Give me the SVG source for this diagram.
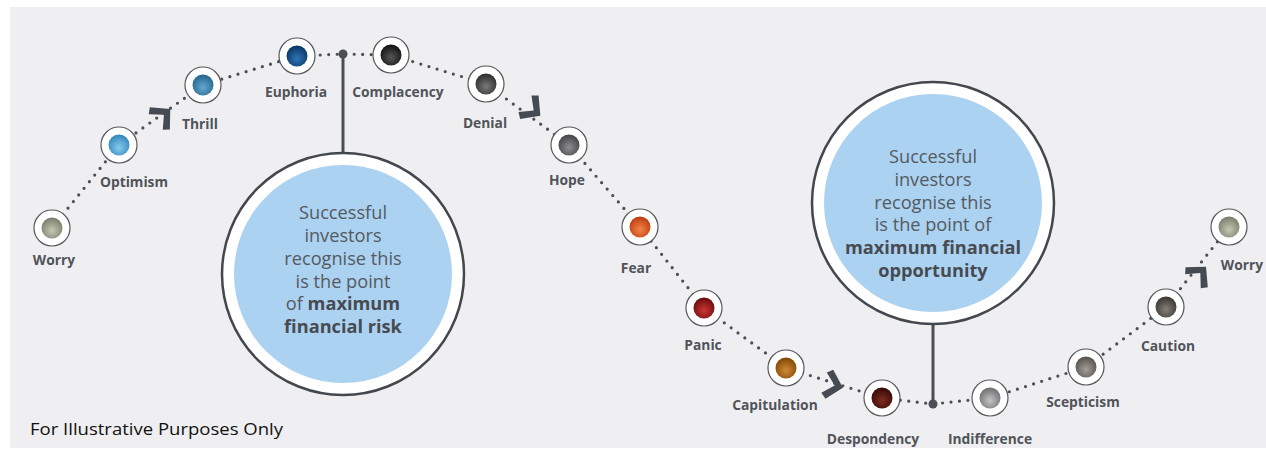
<svg xmlns="http://www.w3.org/2000/svg" width="1266" height="450" viewBox="0 0 1266 450">
<style>
.lbl{font-family:"Open Sans","Noto Sans",sans-serif;font-weight:bold;font-size:13.8px;fill:#50545a;text-anchor:middle}
.ctext{font-family:"Open Sans","Noto Sans",sans-serif;font-size:18.2px;fill:#555a61;text-anchor:middle}
.ctext .b{font-weight:bold;fill:#474b51}
.ring{fill:#ffffff;stroke:#55585d;stroke-width:1.2}
.dots{fill:none;stroke:#4a4e55;stroke-width:3.2;stroke-linecap:round;stroke-dasharray:0 8.5}
.stem{stroke:#4a4e55;stroke-width:3}
.jdot{fill:#4a4e55}
.chev{fill:#464a52}
.bigouter{fill:#ffffff;stroke:#43474e;stroke-width:2.5}
.bigfill{fill:#abd2f1}
</style>
<defs>
<radialGradient id="gWorry" cx="0.5" cy="0.62" r="0.6"><stop offset="0" stop-color="#c4c7b4"/><stop offset="1" stop-color="#7a7f6c"/></radialGradient>
<radialGradient id="gOpt" cx="0.5" cy="0.62" r="0.6"><stop offset="0" stop-color="#86cbee"/><stop offset="1" stop-color="#3387bd"/></radialGradient>
<radialGradient id="gThrill" cx="0.5" cy="0.62" r="0.6"><stop offset="0" stop-color="#64a8cf"/><stop offset="1" stop-color="#25658e"/></radialGradient>
<radialGradient id="gEuph" cx="0.5" cy="0.62" r="0.6"><stop offset="0" stop-color="#2e74b4"/><stop offset="1" stop-color="#073766"/></radialGradient>
<radialGradient id="gComp" cx="0.5" cy="0.62" r="0.6"><stop offset="0" stop-color="#575757"/><stop offset="1" stop-color="#121212"/></radialGradient>
<radialGradient id="gDen" cx="0.5" cy="0.62" r="0.6"><stop offset="0" stop-color="#7a7a7a"/><stop offset="1" stop-color="#2e2e2e"/></radialGradient>
<radialGradient id="gHope" cx="0.5" cy="0.62" r="0.6"><stop offset="0" stop-color="#8e8e90"/><stop offset="1" stop-color="#444446"/></radialGradient>
<radialGradient id="gFear" cx="0.5" cy="0.62" r="0.6"><stop offset="0" stop-color="#f58448"/><stop offset="1" stop-color="#bd3f10"/></radialGradient>
<radialGradient id="gPanic" cx="0.5" cy="0.62" r="0.6"><stop offset="0" stop-color="#cf3434"/><stop offset="1" stop-color="#6a0d0d"/></radialGradient>
<radialGradient id="gCap" cx="0.5" cy="0.62" r="0.6"><stop offset="0" stop-color="#cf8a34"/><stop offset="1" stop-color="#824705"/></radialGradient>
<radialGradient id="gDesp" cx="0.5" cy="0.62" r="0.6"><stop offset="0" stop-color="#7e2c22"/><stop offset="1" stop-color="#360a06"/></radialGradient>
<radialGradient id="gInd" cx="0.5" cy="0.62" r="0.6"><stop offset="0" stop-color="#c4c4c6"/><stop offset="1" stop-color="#707072"/></radialGradient>
<radialGradient id="gScep" cx="0.5" cy="0.62" r="0.6"><stop offset="0" stop-color="#a39e99"/><stop offset="1" stop-color="#57524e"/></radialGradient>
<radialGradient id="gCaut" cx="0.5" cy="0.62" r="0.6"><stop offset="0" stop-color="#85807b"/><stop offset="1" stop-color="#3b3733"/></radialGradient>
<polygon id="chevron" class="chev" points="3,0 -11,-15 -16.5,-10.5 -5.5,0 -16.5,10.5 -11,15"/>
</defs>
<rect x="0" y="0" width="1266" height="450" fill="#ffffff"/>
<rect x="10" y="7" width="1256" height="441" fill="#efeff1"/>

<g id="connectors">
<path class="dots" d="M52,228 L119,145 L203,85 L297,56 L343,54 L391,55 L486,84 L569,145 L640,227 L704,308 L786,368 L882,398 L933,404 L990,398 L1086,367 L1166,307 L1229,227"/>
<line class="stem" x1="343" y1="54" x2="343" y2="154"/>
<line class="stem" x1="933" y1="404" x2="933" y2="324"/>
<circle class="jdot" cx="343" cy="54" r="4.5"/>
<circle class="jdot" cx="933" cy="404" r="4.5"/>
<use href="#chevron" transform="translate(168,111) rotate(-42)"/>
<use href="#chevron" transform="translate(538,114) rotate(38)"/>
<use href="#chevron" transform="translate(840,387) rotate(15)"/>
<use href="#chevron" transform="translate(1204,269) rotate(-48)"/>
</g>

<g id="node-worry1"><circle class="ring" cx="52" cy="228" r="18"/><circle cx="52" cy="228" r="10.5" fill="url(#gWorry)"/><text class="lbl" x="54" y="265">Worry</text></g>
<g id="node-optimism"><circle class="ring" cx="119" cy="145" r="18"/><circle cx="119" cy="145" r="10.5" fill="url(#gOpt)"/><text class="lbl" x="134" y="187">Optimism</text></g>
<g id="node-thrill"><circle class="ring" cx="203" cy="85" r="18"/><circle cx="203" cy="85" r="10.5" fill="url(#gThrill)"/><text class="lbl" x="200" y="129">Thrill</text></g>
<g id="node-euphoria"><circle class="ring" cx="297" cy="56" r="18"/><circle cx="297" cy="56" r="10.5" fill="url(#gEuph)"/><text class="lbl" x="296" y="97">Euphoria</text></g>
<g id="node-complacency"><circle class="ring" cx="391" cy="55" r="18"/><circle cx="391" cy="55" r="10.5" fill="url(#gComp)"/><text class="lbl" x="398" y="97">Complacency</text></g>
<g id="node-denial"><circle class="ring" cx="486" cy="84" r="18"/><circle cx="486" cy="84" r="10.5" fill="url(#gDen)"/><text class="lbl" x="485" y="128">Denial</text></g>
<g id="node-hope"><circle class="ring" cx="569" cy="145" r="18"/><circle cx="569" cy="145" r="10.5" fill="url(#gHope)"/><text class="lbl" x="567" y="185">Hope</text></g>
<g id="node-fear"><circle class="ring" cx="640" cy="227" r="18"/><circle cx="640" cy="227" r="10.5" fill="url(#gFear)"/><text class="lbl" x="636" y="273">Fear</text></g>
<g id="node-panic"><circle class="ring" cx="704" cy="308" r="18"/><circle cx="704" cy="308" r="10.5" fill="url(#gPanic)"/><text class="lbl" x="703" y="350">Panic</text></g>
<g id="node-capitulation"><circle class="ring" cx="786" cy="368" r="18"/><circle cx="786" cy="368" r="10.5" fill="url(#gCap)"/><text class="lbl" x="775" y="410">Capitulation</text></g>
<g id="node-despondency"><circle class="ring" cx="882" cy="398" r="18"/><circle cx="882" cy="398" r="10.5" fill="url(#gDesp)"/><text class="lbl" x="873" y="444">Despondency</text></g>
<g id="node-indifference"><circle class="ring" cx="990" cy="398" r="18"/><circle cx="990" cy="398" r="10.5" fill="url(#gInd)"/><text class="lbl" x="990" y="444">Indifference</text></g>
<g id="node-scepticism"><circle class="ring" cx="1086" cy="367" r="18"/><circle cx="1086" cy="367" r="10.5" fill="url(#gScep)"/><text class="lbl" x="1083" y="407">Scepticism</text></g>
<g id="node-caution"><circle class="ring" cx="1166" cy="307" r="18"/><circle cx="1166" cy="307" r="10.5" fill="url(#gCaut)"/><text class="lbl" x="1168" y="351">Caution</text></g>
<g id="node-worry2"><circle class="ring" cx="1229" cy="227" r="18"/><circle cx="1229" cy="227" r="10.5" fill="url(#gWorry)"/><text class="lbl" x="1242" y="270">Worry</text></g>

<g id="bubble-risk">
<circle class="bigouter" cx="343" cy="274" r="121"/>
<circle class="bigfill" cx="343" cy="274" r="109"/>
<text class="ctext" x="343"><tspan x="343" y="219">Successful</tspan><tspan x="343" y="242">investors</tspan><tspan x="343" y="265">recognise this</tspan><tspan x="343" y="288">is the point</tspan><tspan x="343" y="310">of <tspan class="b">maximum</tspan></tspan><tspan x="343" y="333" class="b">financial risk</tspan></text>
</g>

<g id="bubble-opportunity">
<circle class="bigouter" cx="933" cy="203" r="121"/>
<circle class="bigfill" cx="933" cy="203" r="109"/>
<text class="ctext" x="933"><tspan x="933" y="163">Successful</tspan><tspan x="933" y="186">investors</tspan><tspan x="933" y="209">recognise this</tspan><tspan x="933" y="231">is the point of</tspan><tspan x="933" y="254" class="b">maximum financial</tspan><tspan x="933" y="277" class="b">opportunity</tspan></text>
</g>

<text x="30" y="435" font-family="'Open Sans','Noto Sans',sans-serif" font-size="17" textLength="253" lengthAdjust="spacingAndGlyphs" fill="#111111">For Illustrative Purposes Only</text>
</svg>
